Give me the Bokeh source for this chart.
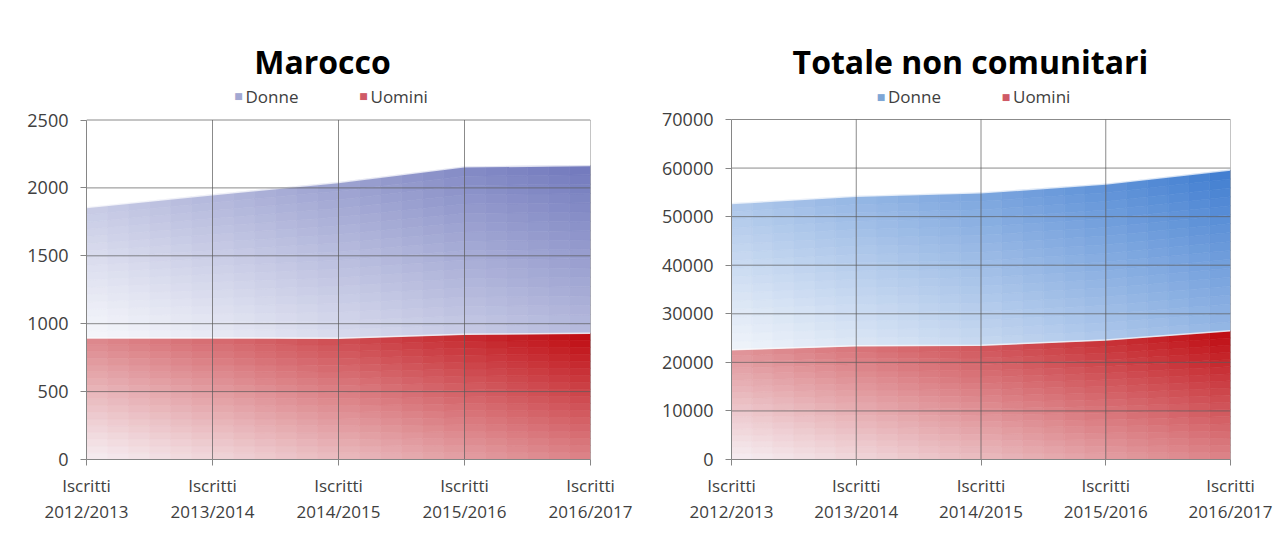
import numpy as np
from bokeh.plotting import figure
from bokeh.layouts import row
from bokeh.models import FixedTicker, Range1d, LinearAxis
from bokeh.core.properties import value
from bokeh.embed import file_html
from bokeh.resources import INLINE

# ---------------- data ----------------
label_top = ["Iscritti", "Iscritti", "Iscritti", "Iscritti", "Iscritti"]
label_years = ["2012/2013", "2013/2014", "2014/2015", "2015/2016", "2016/2017"]
series_names = ["Donne", "Uomini"]

marocco_uomini = [895, 895, 893, 922, 930]
marocco_donne = [960, 1055, 1147, 1233, 1235]

totale_uomini = [22600, 23400, 23500, 24600, 26500]
totale_donne = [30100, 30800, 31400, 32100, 33100]

marocco_yticks = [0, 500, 1000, 1500, 2000, 2500]
totale_yticks = [0, 10000, 20000, 30000, 40000, 50000, 60000, 70000]

FONT = "Open Sans"
TXT = "#404040"
GRID = "#5a5a5a"


def mix(c1, c2, t):
    t = max(0.0, min(1.0, t))
    r = int(round(c1[0] + (c2[0] - c1[0]) * t))
    g = int(round(c1[1] + (c2[1] - c1[1]) * t))
    b = int(round(c1[2] + (c2[2] - c1[2]) * t))
    return "#%02x%02x%02x" % (r, g, b)


def gradient_cells(xs, base, top, light, dark, ncol=6, nrow=18):
    """Cells of the band between base and top, coloured to imitate a diagonal gradient."""
    xs = np.asarray(xs, float)
    base = np.asarray(base, float)
    top = np.asarray(top, float)
    xmin, xmax = xs.min(), xs.max()
    ymin, ymax = base.min(), top.max()
    px, py, cols = [], [], []
    for j in range(len(xs) - 1):
        for c in range(ncol):
            a0, a1 = c / ncol, (c + 1) / ncol
            xa = xs[j] + (xs[j + 1] - xs[j]) * a0
            xb = xs[j] + (xs[j + 1] - xs[j]) * a1
            ba = base[j] + (base[j + 1] - base[j]) * a0
            bb = base[j] + (base[j + 1] - base[j]) * a1
            ta = top[j] + (top[j + 1] - top[j]) * a0
            tb = top[j] + (top[j + 1] - top[j]) * a1
            u = ((xa + xb) / 2 - xmin) / (xmax - xmin)
            for r in range(nrow):
                f0, f1 = r / nrow, (r + 1) / nrow
                ys = [ba + (ta - ba) * f0, bb + (tb - bb) * f0,
                      bb + (tb - bb) * f1, ba + (ta - ba) * f1]
                yc = sum(ys) / 4
                v = (yc - ymin) / (ymax - ymin)
                t = (u + v) / 2
                px.append([xa, xb, xb, xa])
                py.append(ys)
                cols.append(mix(light, dark, t ** 1.1))
    return px, py, cols


def style_axis(ax, size):
    ax.axis_line_color = "#868686"
    ax.major_tick_line_color = "#868686"
    ax.major_tick_out = 6
    ax.major_tick_in = 0
    ax.minor_tick_line_color = None
    ax.major_label_text_font = FONT
    ax.major_label_text_font_size = size
    ax.major_label_text_color = TXT


def make_chart(title, uomini, donne, yticks, donne_light, donne_dark, donne_key,
               width, height, frame_l, frame_r, frame_b, ymax_px, title_cx):
    n = len(label_years)
    x = list(range(n))
    ymax = yticks[-1]
    top_u = list(uomini)
    top_d = [a + b for a, b in zip(uomini, donne)]

    frame_t = 8  # the frame reaches up so the title and legend sit inside it
    unit_px = (frame_b - ymax_px) / ymax
    y_top = (frame_b - frame_t) / unit_px
    step_px = (frame_r - frame_l) / (n - 1)

    def sx(pxv):  # canvas pixel -> x data
        return (pxv - frame_l) / step_px

    def sy(pyv):  # canvas pixel -> y data
        return (frame_b - pyv) / unit_px

    p = figure(width=width, height=height, output_backend="svg", toolbar_location=None,
               x_range=Range1d(0, n - 1), y_range=Range1d(0, y_top),
               min_border_left=frame_l, min_border_right=width - frame_r,
               min_border_top=frame_t, min_border_bottom=height - frame_b,
               background_fill_color="white", border_fill_color="white")
    p.outline_line_color = None
    p.xgrid.visible = False
    p.ygrid.visible = False

    red_light = (246, 238, 242)
    red_dark = (190, 8, 14)

    ux, uy, uc = gradient_cells(x, [0] * n, top_u, red_light, red_dark)
    p.patches(ux, uy, fill_color=uc, line_color=uc, line_width=0.6)
    dx, dy, dc = gradient_cells(x, top_u, top_d, donne_light, donne_dark)
    p.patches(dx, dy, fill_color=dc, line_color=dc, line_width=0.6)

    p.line(x, top_u, line_color="white", line_alpha=0.7, line_width=1.5)
    p.line(x, top_d, line_color="white", line_alpha=0.7, line_width=1.5)

    # grid lines, drawn over the filled areas as in the original
    p.segment(x0=[0] * len(yticks), y0=yticks, x1=[n - 1] * len(yticks), y1=yticks,
              line_color=GRID, line_alpha=0.7, line_width=1)
    p.segment(x0=x, y0=[0] * n, x1=x, y1=[ymax] * n,
              line_color=GRID, line_alpha=0.7, line_width=1)

    # title
    p.text(x=[sx(title_cx)], y=[sy(61)], text=[title],
           text_align="center", text_baseline="alphabetic",
           text_font=value(FONT), text_font_size=value("32px"), text_font_style="bold",
           text_color="#000000")

    # legend: swatches + names, centred over the plot area
    cx = (frame_l + frame_r) / 2
    keys = [donne_key, "#cf5a66"]
    sq_px = [cx - 100, cx + 25]
    p.text(x=[sx(v) for v in sq_px], y=[sy(96)] * 2, text=["\u25a0", "\u25a0"],
           text_align="center", text_baseline="middle",
           text_font=value("DejaVu Sans"), text_font_size=value("9px"), text_color=keys)
    p.text(x=[sx(v + 7) for v in sq_px], y=[sy(96)] * 2, text=series_names,
           text_align="left", text_baseline="middle",
           text_font=value(FONT), text_font_size=value("17px"), text_color=TXT)

    # axes
    p.xaxis.ticker = FixedTicker(ticks=x)
    p.xaxis.major_label_overrides = {i: c for i, c in enumerate(label_top)}
    p.yaxis.ticker = FixedTicker(ticks=yticks)
    p.yaxis.bounds = (0, ymax)
    style_axis(p.xaxis[0], "17px")
    style_axis(p.yaxis[0], "18px")
    p.xaxis.major_label_standoff = 8
    p.yaxis.major_label_standoff = 12

    ax2 = LinearAxis(ticker=FixedTicker(ticks=x),
                     major_label_overrides={i: c for i, c in enumerate(label_years)})
    style_axis(ax2, "17px")
    ax2.axis_line_color = None
    ax2.major_tick_line_color = None
    ax2.major_tick_out = 0
    ax2.major_label_standoff = 0
    p.add_layout(ax2, "below")
    return p


left = make_chart("Marocco", marocco_uomini, marocco_donne, marocco_yticks,
                  (246, 247, 251), (112, 120, 188), "#a3a8d2",
                  646, 526, 86, 590, 461, 120, 322)
right = make_chart("Totale non comunitari", totale_uomini, totale_donne, totale_yticks,
                   (240, 244, 250), (62, 124, 208), "#7ea6d6",
                   628, 526, 85, 584, 459, 119, 324)

layout = row(left, right)
open("out.html", "w").write(file_html(layout, INLINE))
